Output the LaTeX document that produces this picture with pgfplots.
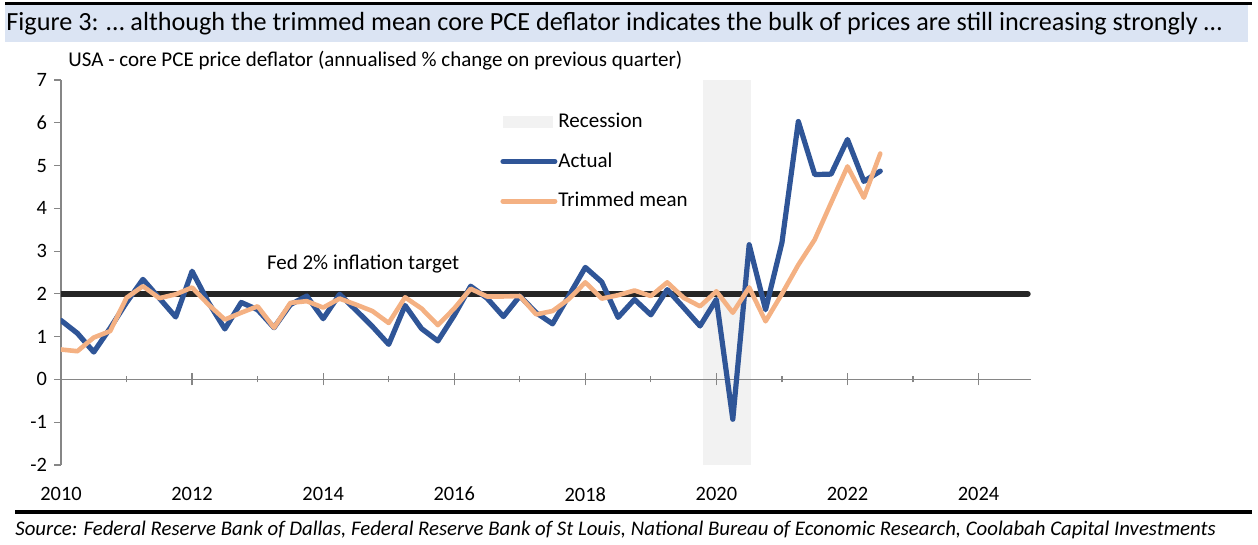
\documentclass[border=0pt]{standalone}
\usepackage{fontspec}
\setmainfont{Carlito}
\usepackage{pgfplots}
\pgfplotsset{compat=1.18}
\usepackage{pgfplotstable}

\definecolor{actualblue}{RGB}{47,85,151}
\definecolor{trimorange}{RGB}{244,177,131}
\definecolor{targetblack}{RGB}{38,38,38}
\definecolor{recgray}{RGB}{242,242,242}
\definecolor{axisgray}{RGB}{134,134,134}
\definecolor{titleband}{RGB}{219,228,243}

\pgfplotstableread{
x a t
2010.00 1.38 0.70
2010.25 1.08 0.66
2010.50 0.64 0.98
2010.75 1.20 1.13
2011.00 1.80 1.91
2011.25 2.34 2.18
2011.50 1.90 1.90
2011.75 1.46 1.99
2012.00 2.53 2.15
2012.25 1.80 1.75
2012.50 1.18 1.40
2012.75 1.80 1.56
2013.00 1.63 1.71
2013.25 1.21 1.21
2013.50 1.75 1.79
2013.75 1.95 1.83
2014.00 1.42 1.68
2014.25 1.99 1.89
2014.50 1.62 1.75
2014.75 1.24 1.60
2015.00 0.82 1.32
2015.25 1.73 1.92
2015.50 1.19 1.66
2015.75 0.90 1.27
2016.00 1.50 1.66
2016.25 2.18 2.12
2016.50 1.90 1.94
2016.75 1.47 1.94
2017.00 1.95 1.95
2017.25 1.56 1.52
2017.50 1.30 1.60
2017.75 1.96 1.88
2018.00 2.62 2.27
2018.25 2.28 1.89
2018.50 1.45 1.97
2018.75 1.87 2.08
2019.00 1.51 1.95
2019.25 2.10 2.27
2019.50 1.68 1.91
2019.75 1.25 1.71
2020.00 1.87 2.06
2020.25 -0.93 1.56
2020.50 3.15 2.15
2020.75 1.63 1.36
2021.00 3.20 2.00
2021.25 6.03 2.68
2021.50 4.79 3.27
2021.75 4.80 4.13
2022.00 5.61 4.98
2022.25 4.63 4.25
2022.50 4.87 5.28
}\pcedata

\begin{document}
\begin{tikzpicture}
\useasboundingbox (0,0) rectangle (629pt,-272.5pt);
% title band
\fill[titleband] (2.5pt,-2.5pt) rectangle (624pt,-21pt);
\draw[black, line width=1.6pt] (2.5pt,-1.6pt) -- (626pt,-1.6pt);
\node[anchor=west, inner sep=0pt, font=\fontsize{13.1}{15}\selectfont] at (3pt,-12pt)
  {Figure 3: … although the trimmed mean core PCE deflator indicates the bulk of prices are still increasing strongly …};
\node[anchor=west, inner sep=0pt, font=\fontsize{10.5}{12}\selectfont] at (34pt,-30.5pt)
  {USA - core PCE price deflator (annualised \% change on previous quarter)};

\begin{axis}[
  at={(30.5pt,-232.5pt)}, anchor=south west,
  scale only axis, width=485pt, height=192.5pt,
  xmin=2010, xmax=2024.8, ymin=-2, ymax=7,
  axis x line=bottom, axis y line=left,
  axis line style={-, axisgray, line width=0.6pt},
  x axis line style={draw=none},
  xtick={2010,2012,...,2024},
  xticklabels={2010,2012,2014,2016,2018,2020,2022,2024},
  ytick={-2,-1,0,1,2,3,4,5,6,7},
  yticklabels={-2,-1,0,1,2,3,4,5,6,7},
  x tick style={draw=none},
  y tick style={axisgray, line width=0.6pt},
  major tick length=3.5pt, tick align=outside,
  tick label style={font=\fontsize{10.2}{12}\selectfont, text=black},
  x tick label style={yshift=-4pt},
  legend style={at={(0.4526,0.917)}, anchor=north west, draw=none, fill=none,
    font=\fontsize{10.5}{12}\selectfont, row sep=10pt, inner sep=0pt,
    nodes={inner sep=0.5pt}},
  legend cell align=left,
  legend image code/.code={\draw[#1, line width=2.5pt, line cap=round] (0pt,0pt) -- (26pt,0pt);},
]
\addplot[fill=recgray, draw=none,
  legend image code/.code={\fill[recgray] (0pt,-3pt) rectangle (25pt,3pt);}]
  coordinates {(2019.8,-2) (2020.53,-2) (2020.53,7) (2019.8,7)} -- cycle;
\addlegendentry{Recession}
\addplot[axisgray, line width=0.6pt, forget plot] coordinates {(2010,0) (2024.8,0)};
\addplot[targetblack, line width=3pt, line cap=round, forget plot] coordinates {(2010,2) (2024.75,2)};
\addplot[actualblue, line width=2.6pt, line join=round, line cap=round] table[x=x,y=a]{\pcedata};
\addlegendentry{Actual}
\addplot[trimorange, line width=2.3pt, line join=round, line cap=round] table[x=x,y=t]{\pcedata};
\addlegendentry{Trimmed mean}
\node[font=\fontsize{10.5}{12}\selectfont] at (axis cs:2014.61,2.69) {Fed 2\% inflation target};
\end{axis}

\begin{axis}[
  at={(30.5pt,-232.5pt)}, anchor=south west,
  scale only axis, width=485pt, height=192.5pt,
  xmin=2010, xmax=2024.8, ymin=-2, ymax=7,
  axis x line=middle, axis y line=none,
  x axis line style={draw=none},
  xtick={2010,2012,...,2024}, xticklabels={},
  minor xtick={2011,2013,...,2023},
  major tick length=6pt, minor tick length=3pt, tick align=center,
  x tick style={axisgray, line width=0.6pt},
]
\end{axis}

\draw[black, line width=2pt] (7.5pt,-256pt) -- (626pt,-256pt);
\node[anchor=west, inner sep=0pt, font=\fontsize{10.4}{12}\selectfont\itshape] at (7.5pt,-265pt)
  {Source: Federal Reserve Bank of Dallas, Federal Reserve Bank of St Louis, National Bureau of Economic Research, Coolabah Capital Investments};
\end{tikzpicture}
\end{document}
